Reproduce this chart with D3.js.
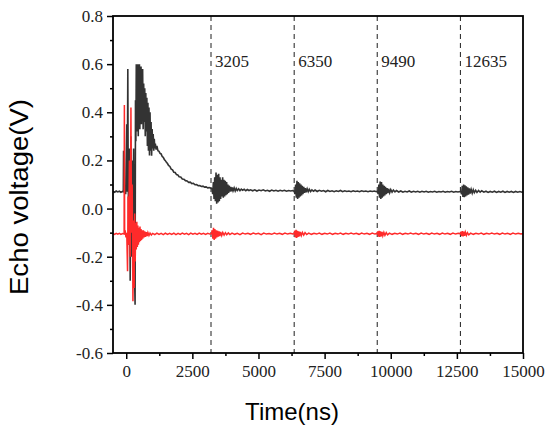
<!DOCTYPE html>
<html><head><meta charset="utf-8">
<script src="https://cdn.jsdelivr.net/npm/d3@7"></script>
<style>html,body{margin:0;padding:0;background:#fff;}svg{display:block;}</style>
</head><body>
<svg id="chart" width="550" height="434"></svg>
<script>
const xTicks = [0, 2500, 5000, 7500, 10000, 12500, 15000];
const yTicks = [-0.6, -0.4, -0.2, 0.0, 0.2, 0.4, 0.6, 0.8];
const echoTimes = [3205, 6350, 9490, 12635];
const echoLabels = ["3205", "6350", "9490", "12635"];

const blackWave = [
[-500,0.071],[-440,0.068],[-380,0.073],[-320,0.069],[-260,0.072],[-200,0.068],[-150,0.071],[-110,0.07],
[-100,0.24],[-90,0.07],[-50,0.09],[-20,0.06],[20,0.35],[40,0.07],[60,0.58],[75,0.12],[100,-0.15],[125,0.25],[150,-0.3],[175,0.3],[200,-0.2],[225,0.2],[250,-0.1],[280,0.25],[310,-0.25],[335,-0.40],
[350,0.45],[365,0.28],[380,0.60],[395,0.32],[410,0.58],[425,0.35],[440,0.60],[455,0.30],[470,0.57],[485,0.38],[500,0.60],[515,0.33],[530,0.56],[545,0.40],[560,0.59],[575,0.35],[590,0.55],[605,0.38],[620,0.58],[640,0.33],[660,0.52],[680,0.36],[700,0.50],[720,0.30],[740,0.48],[760,0.32],[780,0.46],[800,0.26],[820,0.44],[840,0.24],[860,0.42],[880,0.22],[900,0.40],[920,0.24],[940,0.36],[960,0.22],[980,0.33],[1000,0.25],[1020,0.31],[1040,0.24],[1060,0.29],[1080,0.25],[1100,0.27],[1130,0.245],[1160,0.26],[1200,0.24],
[1240,0.238],[1280,0.229],[1320,0.227],[1360,0.216],[1400,0.213],[1440,0.204],[1480,0.199],[1520,0.192],[1560,0.187],[1600,0.179],[1650,0.175],[1700,0.164],[1750,0.161],[1800,0.151],[1850,0.15],[1900,0.141],[1950,0.14],[2000,0.132],[2060,0.131],[2120,0.123],[2180,0.122],[2240,0.116],[2300,0.115],[2360,0.109],[2420,0.11],[2480,0.104],[2540,0.105],[2600,0.099],[2660,0.1],[2720,0.095],[2780,0.096],[2840,0.092],[2900,0.093],[2960,0.089],[3020,0.09],[3080,0.086],[3140,0.087],[3200,0.084],
[3240,0.083],[3270,0.06],[3295,0.11],[3320,0.04],[3345,0.13],[3370,0.03],[3395,0.15],[3420,0.02],[3445,0.14],[3470,0.025],[3495,0.145],[3520,0.03],[3545,0.13],[3570,0.04],[3595,0.12],[3620,0.05],[3645,0.13],[3670,0.045],[3695,0.12],[3720,0.05],[3745,0.115],[3770,0.055],[3795,0.11],[3820,0.06],[3845,0.10],[3870,0.065],[3895,0.095],[3920,0.07],[3950,0.09],[3980,0.072],[4010,0.088],[4040,0.074],[4080,0.086],[4120,0.073],[4160,0.084],[4200,0.075],[4250,0.082],[4300,0.074],[4350,0.081],[4400,0.076],[4460,0.08],[4520,0.074],[4580,0.079],[4640,0.075],[4700,0.078],
[4780,0.074],[4860,0.078],[4940,0.073],[5020,0.077],[5100,0.074],[5180,0.078],[5260,0.073],[5340,0.076],[5420,0.072],[5500,0.077],[5580,0.073],[5660,0.076],[5740,0.072],[5820,0.076],[5900,0.073],[5980,0.076],[6060,0.072],[6140,0.075],[6220,0.073],[6300,0.075],[6350,0.072],
[6380,0.06],[6405,0.10],[6430,0.045],[6455,0.115],[6480,0.04],[6505,0.11],[6530,0.045],[6555,0.105],[6580,0.05],[6605,0.10],[6630,0.055],[6655,0.095],[6680,0.06],[6710,0.09],[6740,0.065],[6770,0.085],[6800,0.068],[6840,0.082],[6880,0.07],[6920,0.08],[6970,0.071],[7020,0.078],[7080,0.072],[7140,0.077],
[7220,0.071],[7300,0.076],[7380,0.072],[7460,0.075],[7540,0.07],[7620,0.075],[7700,0.071],[7780,0.074],[7860,0.07],[7940,0.074],[8020,0.071],[8100,0.075],[8180,0.07],[8260,0.074],[8340,0.071],[8420,0.073],[8500,0.07],[8580,0.074],[8660,0.071],[8740,0.073],[8820,0.07],[8900,0.074],[8980,0.071],[9060,0.073],[9140,0.07],[9220,0.073],[9300,0.071],[9380,0.073],[9460,0.07],[9500,0.072],
[9525,0.06],[9550,0.10],[9575,0.045],[9600,0.112],[9625,0.04],[9650,0.11],[9675,0.045],[9700,0.10],[9725,0.05],[9750,0.095],[9775,0.055],[9800,0.09],[9830,0.06],[9860,0.085],[9890,0.064],[9920,0.082],[9960,0.066],[10000,0.079],[10050,0.068],[10100,0.077],[10160,0.069],[10220,0.075],
[10300,0.069],[10380,0.073],[10460,0.068],[10540,0.072],[10620,0.069],[10700,0.073],[10780,0.068],[10860,0.072],[10940,0.069],[11020,0.072],[11100,0.068],[11180,0.072],[11260,0.069],[11340,0.072],[11420,0.068],[11500,0.071],[11580,0.069],[11660,0.072],[11740,0.068],[11820,0.071],[11900,0.069],[11980,0.072],[12060,0.068],[12140,0.071],[12220,0.069],[12300,0.072],[12380,0.068],[12460,0.071],[12540,0.069],[12620,0.071],[12650,0.07],
[12680,0.06],[12705,0.095],[12730,0.048],[12755,0.10],[12780,0.047],[12805,0.097],[12830,0.05],[12855,0.092],[12880,0.055],[12910,0.088],[12940,0.058],[12970,0.084],[13000,0.062],[13040,0.08],[13080,0.064],[13120,0.078],[13160,0.066],[13210,0.076],[13260,0.067],[13320,0.075],[13380,0.068],[13440,0.074],
[13520,0.068],[13600,0.072],[13680,0.067],[13760,0.071],[13840,0.068],[13920,0.072],[14000,0.067],[14080,0.071],[14160,0.068],[14240,0.072],[14320,0.067],[14400,0.071],[14480,0.068],[14560,0.071],[14640,0.067],[14720,0.071],[14800,0.068],[14880,0.071],[14960,0.068],[15000,0.07]
];

const redWave = [
[-500,-0.104],[-440,-0.107],[-380,-0.103],[-320,-0.106],[-260,-0.103],[-200,-0.107],[-140,-0.104],[-80,-0.106],
[-70,0.43],[-60,-0.10],[-40,-0.09],[-10,-0.12],[20,-0.10],[50,-0.26],[70,0.05],[95,-0.15],[120,0.2],[150,-0.2],[178,0.42],[200,-0.1],[225,0.1],[254,-0.385],[275,-0.05],[300,-0.33],[320,-0.02],[340,-0.22],[360,-0.06],[380,-0.17],[400,-0.055],[420,-0.16],[440,-0.07],[460,-0.15],[480,-0.08],[500,-0.14],[520,-0.075],[540,-0.135],[560,-0.085],[580,-0.13],[600,-0.09],[625,-0.125],[650,-0.09],[675,-0.12],[700,-0.095],[730,-0.118],[760,-0.098],[790,-0.114],[820,-0.1],[860,-0.112],[900,-0.102],[950,-0.11],
[1000,-0.103],[1080,-0.108],[1160,-0.102],[1240,-0.107],[1320,-0.103],[1400,-0.108],[1480,-0.102],[1560,-0.107],[1640,-0.103],[1720,-0.107],[1800,-0.102],[1880,-0.108],[1960,-0.103],[2040,-0.107],[2120,-0.102],[2200,-0.106],[2280,-0.103],[2360,-0.108],[2440,-0.102],[2520,-0.106],[2600,-0.103],[2680,-0.107],[2760,-0.102],[2840,-0.106],[2920,-0.103],[3000,-0.107],[3080,-0.103],[3160,-0.106],[3220,-0.104],
[3250,-0.09],[3275,-0.125],[3300,-0.08],[3325,-0.13],[3350,-0.085],[3375,-0.125],[3400,-0.09],[3425,-0.12],[3450,-0.092],[3480,-0.117],[3510,-0.095],[3540,-0.114],[3570,-0.097],[3610,-0.112],[3650,-0.099],[3700,-0.11],[3750,-0.1],[3800,-0.109],[3860,-0.101],[3920,-0.108],
[4000,-0.102],[4100,-0.107],[4200,-0.103],[4300,-0.108],[4400,-0.102],[4500,-0.106],[4600,-0.103],[4700,-0.107],[4800,-0.102],[4900,-0.106],[5000,-0.103],[5100,-0.108],[5200,-0.102],[5300,-0.106],[5400,-0.104],[5500,-0.107],[5600,-0.102],[5700,-0.106],[5800,-0.103],[5900,-0.107],[6000,-0.102],[6100,-0.106],[6200,-0.103],[6300,-0.106],[6350,-0.104],
[6370,-0.092],[6395,-0.12],[6420,-0.088],[6445,-0.122],[6470,-0.092],[6495,-0.118],[6520,-0.095],[6550,-0.115],[6580,-0.097],[6620,-0.112],[6660,-0.099],[6710,-0.11],[6760,-0.1],[6820,-0.108],
[6900,-0.102],[7000,-0.107],[7100,-0.103],[7200,-0.106],[7300,-0.102],[7400,-0.107],[7500,-0.103],[7600,-0.106],[7700,-0.102],[7800,-0.107],[7900,-0.103],[8000,-0.106],[8100,-0.102],[8200,-0.107],[8300,-0.103],[8400,-0.106],[8500,-0.102],[8600,-0.106],[8700,-0.103],[8800,-0.107],[8900,-0.102],[9000,-0.106],[9100,-0.103],[9200,-0.107],[9300,-0.102],[9400,-0.106],[9480,-0.104],
[9510,-0.095],[9535,-0.117],[9560,-0.092],[9585,-0.118],[9610,-0.095],[9640,-0.115],[9670,-0.097],[9700,-0.113],[9740,-0.099],[9780,-0.111],[9830,-0.1],[9880,-0.109],
[9950,-0.102],[10050,-0.107],[10150,-0.103],[10250,-0.106],[10350,-0.102],[10450,-0.107],[10550,-0.103],[10650,-0.106],[10750,-0.102],[10850,-0.106],[10950,-0.103],[11050,-0.107],[11150,-0.102],[11250,-0.106],[11350,-0.103],[11450,-0.107],[11550,-0.102],[11650,-0.106],[11750,-0.103],[11850,-0.107],[11950,-0.102],[12050,-0.106],[12150,-0.103],[12250,-0.107],[12350,-0.102],[12450,-0.106],[12550,-0.103],[12630,-0.105],
[12660,-0.096],[12685,-0.115],[12710,-0.094],[12735,-0.116],[12760,-0.096],[12790,-0.113],[12820,-0.098],[12860,-0.111],[12900,-0.1],[12950,-0.109],
[13020,-0.102],[13120,-0.107],[13220,-0.103],[13320,-0.106],[13420,-0.102],[13520,-0.107],[13620,-0.103],[13720,-0.106],[13820,-0.102],[13920,-0.106],[14020,-0.103],[14120,-0.107],[14220,-0.102],[14320,-0.106],[14420,-0.103],[14520,-0.107],[14620,-0.102],[14720,-0.106],[14820,-0.103],[14920,-0.106],[15000,-0.104]
];

const L = 113, R = 523, T = 16, B = 353;
const svg = d3.select("#chart");
const x = d3.scaleLinear().domain([-500, 15000]).range([L, R]);
const y = d3.scaleLinear().domain([-0.6, 0.8]).range([B, T]);

svg.append("defs").append("clipPath").attr("id", "clip")
  .append("rect").attr("x", L).attr("y", T).attr("width", R - L).attr("height", B - T);

// dashed echo markers
svg.append("g").selectAll("line").data(echoTimes).join("line")
  .attr("x1", d => x(d)).attr("x2", d => x(d))
  .attr("y1", T).attr("y2", B)
  .attr("stroke", "#333").attr("stroke-width", 1.1)
  .attr("stroke-dasharray", "5,4");

svg.append("g").selectAll("text").data(echoTimes).join("text")
  .attr("x", d => x(d) + 4).attr("y", 67)
  .attr("font-family", "Liberation Serif, Times New Roman, serif")
  .attr("font-size", 17).attr("fill", "#222")
  .text((d, i) => echoLabels[i]);

const line = d3.line().x(d => x(d[0])).y(d => y(d[1]));
const g = svg.append("g").attr("clip-path", "url(#clip)");
g.append("path").datum(blackWave).attr("d", line)
  .attr("fill", "none").attr("stroke", "#333").attr("stroke-width", 1.6);
g.append("path").datum(redWave).attr("d", line)
  .attr("fill", "none").attr("stroke", "#ff2a2a").attr("stroke-width", 1.5);

// axes
const fmtY = d => d3.format(".1f")(d).replace("−", "-");
const xAxis = d3.axisBottom(x).tickValues(xTicks).tickSize(6).tickSizeOuter(0).tickFormat(d3.format("d"));
const yAxis = d3.axisLeft(y).tickValues(yTicks).tickSize(6).tickSizeOuter(0).tickFormat(fmtY);
const xMinor = d3.axisBottom(x).tickValues([1250, 3750, 6250, 8750, 11250, 13750]).tickSize(3).tickSizeOuter(0).tickFormat("");
const yMinor = d3.axisLeft(y).tickValues([-0.5, -0.3, -0.1, 0.1, 0.3, 0.5, 0.7]).tickSize(3).tickSizeOuter(0).tickFormat("");

function style(sel) {
  sel.selectAll(".domain").remove();
  sel.selectAll("line").attr("stroke", "#000").attr("stroke-width", 1.5);
  sel.selectAll("text").attr("font-family", "Liberation Serif, Times New Roman, serif")
    .attr("font-size", 17).attr("fill", "#222");
}
svg.append("g").attr("transform", `translate(0,${B})`).call(xMinor).call(style);
svg.append("g").attr("transform", `translate(${L},0)`).call(yMinor).call(style);
const gx = svg.append("g").attr("transform", `translate(0,${B})`).call(xAxis).call(style);
gx.selectAll("text").attr("y", 12).attr("dy", "0.71em");
const gy = svg.append("g").attr("transform", `translate(${L},0)`).call(yAxis).call(style);
gy.selectAll("text").attr("x", -10);

// frame
svg.append("rect").attr("x", L).attr("y", T).attr("width", R - L).attr("height", B - T)
  .attr("fill", "none").attr("stroke", "#000").attr("stroke-width", 1.8);

// titles
svg.append("text").attr("x", 292).attr("y", 420).attr("text-anchor", "middle")
  .attr("font-family", "Liberation Sans, Arial, sans-serif").attr("font-size", 24).attr("fill", "#000")
  .text("Time(ns)");
svg.append("text").attr("transform", "translate(28,197) rotate(-90)").attr("text-anchor", "middle")
  .attr("font-family", "Liberation Sans, Arial, sans-serif").attr("font-size", 25).attr("fill", "#000")
  .attr("textLength", 196).attr("lengthAdjust", "spacingAndGlyphs")
  .text("Echo voltage(V)");
</script>
</body></html>
